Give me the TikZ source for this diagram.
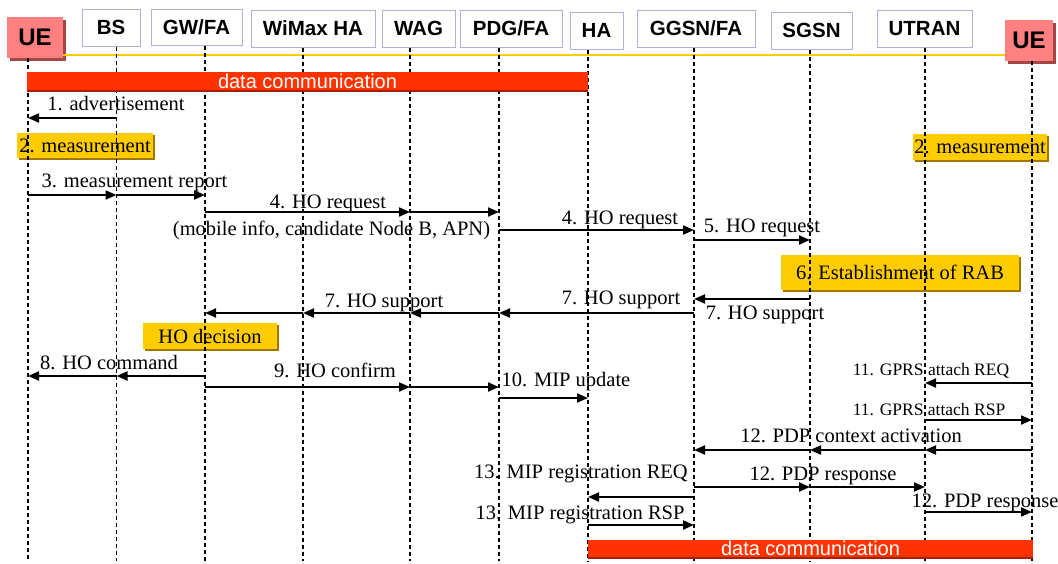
\documentclass[tikz,border=0pt]{standalone}
\usepackage{fontspec}
\setmainfont{Liberation Serif}
\newfontfamily\arialfont{Liberation Sans}
\usetikzlibrary{arrows.meta,shadows}

\definecolor{boxline}{RGB}{176,176,216}
\definecolor{uered}{RGB}{255,128,128}
\definecolor{ueshade}{RGB}{165,70,70}
\definecolor{noteyellow}{RGB}{255,204,0}
\definecolor{noteshade}{RGB}{160,120,0}
\definecolor{databar}{RGB}{255,51,0}
\definecolor{datashade}{RGB}{170,30,0}
\definecolor{rail}{RGB}{255,204,0}

\tikzset{
  hdr/.style={draw=boxline, fill=white, line width=1pt, inner sep=0pt,
    font=\arialfont\bfseries\fontsize{20.5}{22}\selectfont},
  uebox/.style={fill=uered, inner sep=0pt,
    font=\arialfont\bfseries\fontsize{24}{26}\selectfont,
    drop shadow={shadow xshift=3pt, shadow yshift=-3pt, fill=ueshade, opacity=1}},
  note/.style={fill=noteyellow, inner sep=0pt, font=\fontsize{20.5}{22}\selectfont,
    drop shadow={shadow xshift=2pt, shadow yshift=-2pt, fill=noteshade, opacity=1}},
  databox/.style={fill=databar, inner sep=0pt, text=white,
    font=\arialfont\fontsize{20}{22}\selectfont,
    drop shadow={shadow xshift=0pt, shadow yshift=-2pt, fill=datashade, opacity=1}},
  life/.style={line width=1.7pt, dash pattern=on 4pt off 3pt},
  msg/.style={line width=2pt, -{Triangle[length=11pt,width=9pt]}},
  lbl/.style={font=\fontsize{20.5}{22}\selectfont, inner sep=0pt},
  smalllbl/.style={font=\fontsize{17.5}{19}\selectfont, inner sep=0pt}
}

\begin{document}
\begin{tikzpicture}[x=1pt,y=-1pt]
  \useasboundingbox (0,0) rectangle (1058,563);

  % entities
  \node[uebox, minimum width=56pt, minimum height=41pt] (ue1box) at (35,37.5) {UE};
  \node[hdr, minimum width=58pt, minimum height=37pt] (bsbox) at (111,27.5) {BS};
  \node[hdr, minimum width=91pt, minimum height=36pt] (gwbox) at (196.5,27) {GW/FA};
  \node[hdr, minimum width=124pt, minimum height=37pt] (wimaxbox) at (313,28.5) {WiMax HA};
  \node[hdr, minimum width=73pt, minimum height=37pt] (wagbox) at (418.5,28.5) {WAG};
  \node[hdr, minimum width=102pt, minimum height=37pt] (pdgbox) at (511,28.5) {PDG/FA};
  \node[hdr, minimum width=53pt, minimum height=37pt] (habox) at (596.5,30.5) {HA};
  \node[hdr, minimum width=118pt, minimum height=37pt] (ggsnbox) at (696,28.5) {GGSN/FA};
  \node[hdr, minimum width=81pt, minimum height=37pt] (sgsnbox) at (811.5,30.5) {SGSN};
  \node[hdr, minimum width=95pt, minimum height=37pt] (utranbox) at (924.5,28.5) {UTRAN};
  \node[uebox, minimum width=48pt, minimum height=41pt] (ue2box) at (1029,40.5) {UE};

  \draw[rail, line width=2pt] (ue1box.east |- 0,55) -- (ue2box.west |- 0,55);

  % lifeline positions
  \coordinate (ue1) at (28,0);
  \coordinate (bs) at (116.5,0);
  \coordinate (gw) at (205,0);
  \coordinate (wimax) at (303,0);
  \coordinate (wag) at (410,0);
  \coordinate (pdg) at (499,0);
  \coordinate (ha) at (588,0);
  \coordinate (ggsn) at (694,0);
  \coordinate (sgsn) at (810,0);
  \coordinate (utran) at (925,0);
  \coordinate (ue2) at (1032,0);

  % local actions
  \node[note, minimum width=136pt, minimum height=25pt] (meas1) at (85,145.5) {2. measurement};
  \node[note, minimum width=134pt, minimum height=26pt] (meas2) at (980,146.5) {2. measurement};
  \node[note, minimum width=238pt, minimum height=35pt] (rab) at (900,272) {6. Establishment of RAB};
  \node[note, minimum width=134pt, minimum height=26pt] (hodec) at (210,336) {HO decision};

  \foreach \l/\b in {ue1/ue1box,bs/bsbox,gw/gwbox,wimax/wimaxbox,wag/wagbox,pdg/pdgbox,
      ha/habox,ggsn/ggsnbox,sgsn/sgsnbox,utran/utranbox,ue2/ue2box}
    \draw[life] (\l |- \b.south) -- (\l |- 0,561);

  \node[databox, minimum width=561pt, minimum height=18pt] (data1) at (307.5,81) {data communication};
  \node[databox, minimum width=445pt, minimum height=17pt] (data2) at (810.5,548.5) {data communication};

  % messages
  \draw[msg] (bs |- 0,118) -- (ue1 |- 0,118);
  \node[lbl] (m1) at (116,104) {1. advertisement};

  \draw[msg] (ue1 |- 0,195) -- (bs |- 0,195);
  \draw[msg] (bs |- 0,195) -- (gw |- 0,195);
  \node[lbl] (m3) at (134.5,183) {3. measurement report};

  \draw[msg] (gw |- 0,212) -- (wag |- 0,212);
  \draw[msg] (wag |- 0,212) -- (pdg |- 0,212);
  \node[lbl] (m4a) at (328,204) {4. HO request};
  \node[lbl] (m4info) at (331.5,230) {(mobile info, candidate Node B, APN)};

  \draw[msg] (pdg |- 0,230) -- (ggsn |- 0,230);
  \node[lbl] (m4b) at (620,220) {4. HO request};

  \draw[msg] (ggsn |- 0,240) -- (sgsn |- 0,240);
  \node[lbl] (m5) at (762,228) {5. HO request};

  \draw[msg] (sgsn |- 0,299) -- (ggsn |- 0,299);
  \node[lbl] (m7a) at (765,315) {7. HO support};

  \draw[msg] (ggsn |- 0,313) -- (pdg |- 0,313);
  \draw[msg] (pdg |- 0,313) -- (wag |- 0,313);
  \draw[msg] (wag |- 0,313) -- (wimax |- 0,313);
  \draw[msg] (wimax |- 0,313) -- (gw |- 0,313);
  \node[lbl] (m7b) at (621,300) {7. HO support};
  \node[lbl] (m7c) at (384,303) {7. HO support};

  \draw[msg] (gw |- 0,376) -- (bs |- 0,376);
  \draw[msg] (bs |- 0,376) -- (ue1 |- 0,376);
  \node[lbl] (m8) at (109,363) {8. HO command};

  \draw[msg] (gw |- 0,387) -- (wag |- 0,387);
  \draw[msg] (wag |- 0,387) -- (pdg |- 0,387);
  \node[lbl] (m9) at (335,370) {9. HO confirm};

  \draw[msg] (pdg |- 0,398) -- (ha |- 0,398);
  \node[lbl] (m10) at (566,382) {10. MIP update};

  \draw[msg] (ue2 |- 0,383) -- (utran |- 0,383);
  \node[smalllbl] (m11a) at (931,371) {11. GPRS attach REQ};

  \draw[msg] (utran |- 0,420) -- (ue2 |- 0,420);
  \node[smalllbl] (m11b) at (929,410) {11. GPRS attach RSP};

  \draw[msg] (ue2 |- 0,450) -- (utran |- 0,450);
  \draw[msg] (utran |- 0,450) -- (sgsn |- 0,450);
  \draw[msg] (sgsn |- 0,450) -- (ggsn |- 0,450);
  \node[lbl] (m12a) at (851,436) {12. PDP context activation};

  \draw[msg] (ggsn |- 0,487) -- (sgsn |- 0,487);
  \draw[msg] (sgsn |- 0,487) -- (utran |- 0,487);
  \node[lbl] (m12b) at (823,476) {12. PDP response};

  \draw[msg] (utran |- 0,512) -- (ue2 |- 0,512);
  \node[lbl] (m12c) at (985,503) {12. PDP response};

  \draw[msg] (ggsn |- 0,497) -- (ha |- 0,497);
  \node[lbl] (m13a) at (581,474) {13. MIP registration REQ};

  \draw[msg] (ha |- 0,525) -- (ggsn |- 0,525);
  \node[lbl] (m13b) at (580,515) {13. MIP registration RSP};
\end{tikzpicture}
\end{document}
